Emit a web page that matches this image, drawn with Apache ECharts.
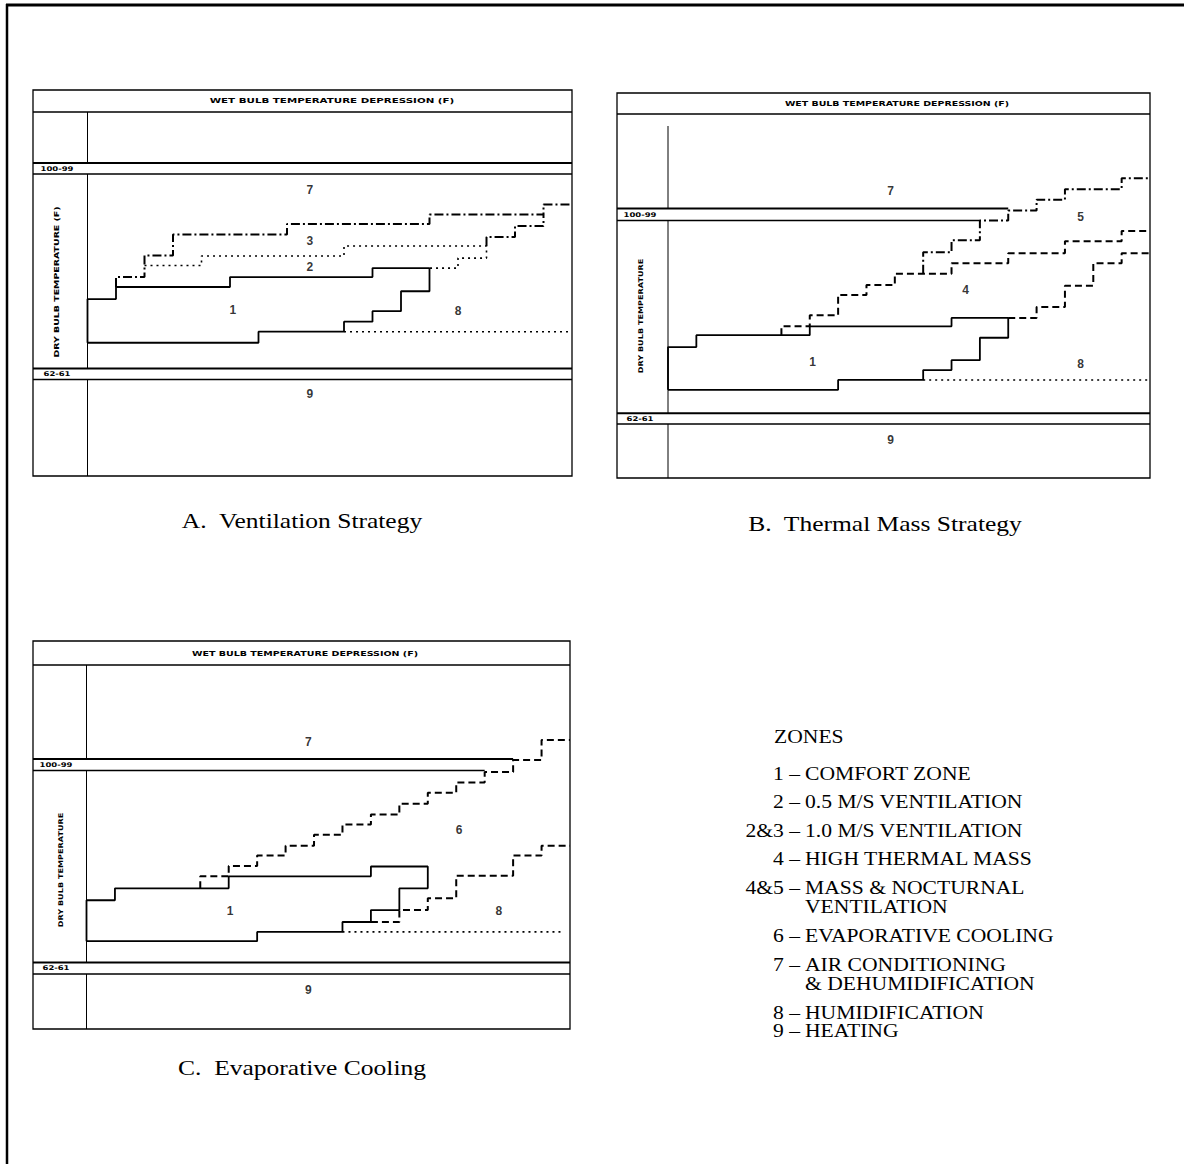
<!DOCTYPE html>
<html><head><meta charset="utf-8">
<script src="https://cdn.jsdelivr.net/npm/echarts@6/dist/echarts.min.js"></script>
<style>html,body{margin:0;padding:0;background:#fff}#c{width:1184px;height:1164px}</style>
</head><body><div id="c"></div>
<script>
// x = wet bulb temperature depression step (0..17), y = dry bulb temperature (deg F, schematic)
// ---- Panel A: Ventilation Strategy ----
const aComfort = [[0,66.9],[0,75.2],[1,75.2],[1,77.5],[5,77.5],[5,79.4],[10,79.4],[10,81.1],[12,81.1],[12,76.7],[11,76.7],[11,72.9],[10,72.9],[10,70.9],[9,70.9],[9,69.0],[6,69.0],[6,66.9],[0,66.9]];
const aHumid = [[9,69.0],[17,69.0]];
const aVent05 = [[2,81.6],[4,81.6],[4,83.4],[9,83.4],[9,85.3],[14,85.3],[14,83.0],[13,83.0],[13,81.1],[12,81.1]];
const aVent10 = [[1,77.5],[1,79.4],[2,79.4],[2,83.5],[3,83.5],[3,87.5],[7,87.5],[7,89.5],[12,89.5],[12,91.3],[16,91.3],[16,93.2],[17,93.2]];
const aVent10Edge = [[14,85.3],[14,87.0],[15,87.0],[15,89.1],[16,89.1],[16,91.3]];
const aZones = [[7.8,96.0,'7'],[7.8,86.2,'3'],[7.8,81.3,'2'],[5.1,73.2,'1'],[13.0,72.9,'8'],[7.8,57.1,'9']];
// ---- Panel B: Thermal Mass Strategy ----
const bComfort = [[0,66.5],[0,74.7],[1,74.7],[1,77.0],[5,77.0],[5,78.7],[10,78.7],[10,80.3],[12,80.3],[12,76.5],[11,76.5],[11,72.2],[10,72.2],[10,70.3],[9,70.3],[9,68.4],[6,68.4],[6,66.5],[0,66.5]];
const bHumid = [[9,68.4],[17,68.4]];
const bMass = [[4,77.0],[4,78.7],[5,78.7],[5,80.8],[6,80.8],[6,84.7],[7,84.7],[7,86.6],[8,86.6],[8,88.8],[10,88.8],[10,90.8],[12,90.8],[12,92.7],[14,92.7],[14,95.0],[16,95.0],[16,97.0],[17,97.0]];
const bMassEdge = [[12,80.3],[13,80.3],[13,82.4],[14,82.4],[14,86.5],[15,86.5],[15,90.8],[16,90.8],[16,92.7],[17,92.7]];
const bNocturnal = [[9,88.8],[9,92.9],[10,92.9],[10,95.2],[11,95.2],[11,99.0],[12,99.0],[12,100.9],[13,100.9],[13,103.0],[14,103.0],[14,105.0],[16,105.0],[16,107.1],[17,107.1]];
const bZones = [[7.85,104.7,'7'],[14.55,99.7,'5'],[10.5,85.6,'4'],[5.1,71.8,'1'],[14.55,71.5,'8'],[7.85,56.8,'9']];
// ---- Panel C: Evaporative Cooling ----
const cComfort = [[0,66.1],[0,74.0],[1,74.0],[1,76.3],[5,76.3],[5,78.6],[10,78.6],[10,80.5],[12,80.5],[12,76.3],[11,76.3],[11,72.1],[10,72.1],[10,69.8],[9,69.8],[9,67.9],[6,67.9],[6,66.1],[0,66.1]];
const cHumid = [[9,67.9],[16.8,67.9]];
const cEvapUpper = [[4,76.3],[4,78.6],[5,78.6],[5,80.6],[6,80.6],[6,82.6],[7,82.6],[7,84.5],[8,84.5],[8,86.6],[9,86.6],[9,88.6],[10,88.6],[10,90.5],[11,90.5],[11,92.6],[12,92.6],[12,94.7],[13,94.7],[13,96.7],[14,96.7],[14,98.7],[15,98.7],[15,101.0],[16,101.0],[16,104.9],[17,104.9]];
const cEvapLower = [[10,69.8],[11,69.8],[11,72.1],[12,72.1],[12,74.4],[13,74.4],[13,78.7],[15,78.7],[15,82.6],[16,82.6],[16,84.5],[17,84.5]];
const cZones = [[7.8,104.4,'7'],[13.1,87.6,'6'],[5.05,71.9,'1'],[14.5,71.9,'8'],[7.8,56.7,'9']];
// ---- texts ----
const headerText = 'WET BULB TEMPERATURE DEPRESSION (F)';
const yTitles = ['DRY BULB TEMPERATURE (F)', 'DRY BULB TEMPERATURE', 'DRY BULB TEMPERATURE'];
const bandTexts = ['100-99', '62-61'];
const captions = ['A.  Ventilation Strategy', 'B.  Thermal Mass Strategy', 'C.  Evaporative Cooling'];
const legendTitle = 'ZONES';
const legendKeys = ['1 \u2013', '2 \u2013', '2&3 \u2013', '4 \u2013', '4&5 \u2013', '', '6 \u2013', '7 \u2013', '', '8 \u2013', '9 \u2013'];
const legendDescs = ['COMFORT ZONE', '0.5 M/S VENTILATION', '1.0 M/S VENTILATION', 'HIGH THERMAL MASS', 'MASS & NOCTURNAL', 'VENTILATION', 'EVAPORATIVE COOLING', 'AIR CONDITIONING', '& DEHUMIDIFICATION', 'HUMIDIFICATION', 'HEATING'];

// ---- layout (pixels) ----
const layouts = [
  {fl:33, fr:572, ft:90, fb:476, hy:112, ax:87.5, axTop:112, b1t:163, b1b:174, b2t:368.5, b2b:379.5, b1tEnd:17, b1bEnd:17, headX:332, headY:101, headSX:1.47, ytX:57, ytY:282, ytSX:1.45, bandX:57, capX:302, capY:521},
  {fl:617, fr:1150, ft:93, fb:478, hy:114, ax:668, axTop:126, b1t:208.5, b1b:220.5, b2t:413.3, b2b:424, b1tEnd:12, b1bEnd:11, headX:897, headY:103, headSX:1.35, ytX:641, ytY:316, ytSX:1.25, bandX:640, capX:885, capY:524},
  {fl:33, fr:570, ft:641, fb:1029, hy:665, ax:86.5, axTop:665, b1t:759, b1b:770.5, b2t:962.5, b2b:974, b1tEnd:15, b1bEnd:14, headX:305, headY:653, headSX:1.36, ytX:61, ytY:870, ytSX:1.25, bandX:56, capX:302, capY:1068}
];

const grids = [], xAxes = [], yAxes = [], series = [], graphics = [];
function gLine(x1, y1, x2, y2, w) {
  return {type:'line', silent:true, shape:{x1:x1, y1:y1, x2:x2, y2:y2}, style:{stroke:'#000', lineWidth:w}};
}
function gText(txt, x, y, font, align, extra) {
  return Object.assign({type:'text', silent:true, x:x, y:y,
    style:{text:txt, font:font, fill:'#000', textAlign:align || 'center', textVerticalAlign:'middle', verticalAlign:'middle'}}, extra || {});
}

layouts.forEach(function (L, i) {
  const pxK = (L.fr - L.ax) / 17;
  const pxT = (L.b2t - L.b1b) / 37;
  grids.push({left:L.fl, top:L.ft, width:L.fr - L.fl, height:L.fb - L.ft, show:true, borderColor:'#000', borderWidth:1.3, backgroundColor:'transparent'});
  xAxes.push({type:'value', gridIndex:i, min:-(L.ax - L.fl) / pxK, max:17, show:false});
  yAxes.push({type:'value', gridIndex:i, min:62 - (L.fb - L.b2t) / pxT, max:99 + (L.b1b - L.ft) / pxT, show:false});
  const kx = function (k) { return L.ax + k * pxK; };
  graphics.push(gLine(L.fl, L.hy, L.fr, L.hy, 1.6));
  graphics.push(gLine(L.fl, L.b1t, kx(L.b1tEnd), L.b1t, 2));
  graphics.push(gLine(L.fl, L.b1b, kx(L.b1bEnd), L.b1b, 1.6));
  graphics.push(gLine(L.fl, L.b2t, L.fr, L.b2t, 2));
  graphics.push(gLine(L.fl, L.b2b, L.fr, L.b2b, 1.6));
  graphics.push(gLine(L.ax, L.axTop, L.ax, L.b1t, 1));
  graphics.push(gLine(L.ax, L.b1b, L.ax, L.b2t, 1));
  graphics.push(gLine(L.ax, L.b2b, L.ax, L.fb, 1));
  graphics.push(gText(headerText, L.headX, L.headY, 'bold 7px "DejaVu Sans"', 'center', {scaleX:L.headSX}));
  graphics.push(gText(yTitles[i], L.ytX, L.ytY, 'bold 6.5px "DejaVu Sans"', 'center', {rotation:Math.PI / 2, scaleX:L.ytSX}));
  graphics.push(gText(bandTexts[0], L.bandX, (L.b1t + L.b1b) / 2, 'bold 6.5px "DejaVu Sans"', 'center', {scaleX:1.3}));
  graphics.push(gText(bandTexts[1], L.bandX, (L.b2t + L.b2b) / 2, 'bold 6.5px "DejaVu Sans"', 'center', {scaleX:1.3}));
  graphics.push(gText(captions[i], L.capX, L.capY, '22px "Liberation Serif"', 'center', {scaleX:1.16}));
});

const SOLID = {color:'#000', width:1.8, type:'solid'};
const DOTTED = {color:'#000', width:1.6, type:[2, 4]};
const DASHED = {color:'#000', width:2, type:[7, 4]};
const DASHDOT = {color:'#000', width:2, type:[9, 3, 2, 3]};
function addLine(name, data, gi, style) {
  series.push({type:'line', name:name, xAxisIndex:gi, yAxisIndex:gi, data:data, symbol:'none', showSymbol:false,
    lineStyle:style, silent:true, clip:false, z:3});
}
function addZones(name, data, gi) {
  series.push({type:'scatter', name:name, xAxisIndex:gi, yAxisIndex:gi, data:data, symbolSize:1, silent:true,
    itemStyle:{color:'rgba(0,0,0,0)'},
    label:{show:true, position:'inside', formatter:function (p) { return p.data[2]; },
      color:'#000', fontFamily:'Liberation Sans', fontWeight:'bold', fontSize:12}});
}
addLine('A comfort', aComfort, 0, SOLID);
addLine('A humidification', aHumid, 0, DOTTED);
addLine('A 0.5 m/s ventilation', aVent05, 0, DOTTED);
addLine('A 1.0 m/s ventilation', aVent10, 0, DASHDOT);
addLine('A 1.0 m/s ventilation edge', aVent10Edge, 0, DASHDOT);
addZones('A zones', aZones, 0);
addLine('B comfort', bComfort, 1, SOLID);
addLine('B humidification', bHumid, 1, DOTTED);
addLine('B high thermal mass', bMass, 1, DASHED);
addLine('B high thermal mass edge', bMassEdge, 1, DASHED);
addLine('B mass & nocturnal ventilation', bNocturnal, 1, DASHDOT);
addZones('B zones', bZones, 1);
addLine('C comfort', cComfort, 2, SOLID);
addLine('C humidification', cHumid, 2, DOTTED);
addLine('C evaporative upper', cEvapUpper, 2, DASHED);
addLine('C evaporative lower', cEvapLower, 2, DASHED);
addZones('C zones', cZones, 2);

// page border
graphics.push(gLine(6, 5, 1184, 5, 3));
graphics.push(gLine(7, 4, 7, 1164, 2.5));
// zones legend
const legendY = [774, 802, 831, 859, 888, 907, 936, 965, 984, 1013, 1031];
graphics.push(gText(legendTitle, 774, 737, '18px "Liberation Serif"', 'left', {scaleX:1.2}));
legendDescs.forEach(function (d, j) {
  if (legendKeys[j]) graphics.push(gText(legendKeys[j], 800, legendY[j], '18px "Liberation Serif"', 'right', {scaleX:1.2}));
  graphics.push(gText(d, 805, legendY[j], '18px "Liberation Serif"', 'left', {scaleX:1.2}));
});

const chart = echarts.init(document.getElementById('c'), null, {renderer:'svg', width:1184, height:1164});
chart.setOption({
  animation:false,
  backgroundColor:'#fff',
  grid:grids, xAxis:xAxes, yAxis:yAxes, series:series, graphic:graphics
});
</script>
</body></html>
